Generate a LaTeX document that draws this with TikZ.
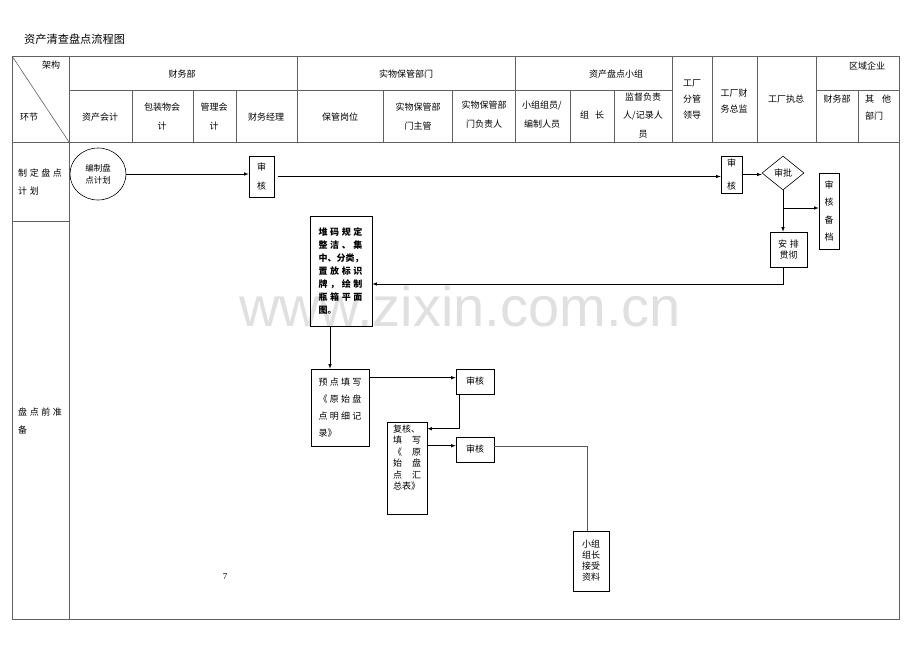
\documentclass[tikz,border=0pt]{standalone}
\usepackage{fontspec}
\setmainfont{Noto Sans CJK SC}
\setsansfont{Liberation Sans}
\newfontfamily\latinserif{Liberation Serif}
\usetikzlibrary{shapes,arrows}
\usetikzlibrary{positioning}

\begin{document}
\begin{tikzpicture}[
        x=1pt, y=-1pt,
        every node/.style={font=\fontsize{9}{19}\selectfont, inner sep=0pt},
        grid/.style={draw=gray!75!black, line width=0.6pt},
        flow/.style={draw, line width=0.6pt, -latex},
        ]
        \tikzstyle{card} = [draw, line width=0.6pt, fill=white, align=center]
        \tikzstyle{head} = [align=center]
        \tikzstyle{lane} = [align=left, anchor=west, font=\fontsize{9}{18}\selectfont]
        \newcommand{\cgap}{\hspace{2.6pt}}
        \newcommand{\jl}[2]{\makebox[#1][s]{#2}}
        \useasboundingbox (0,0) rectangle (920,651);

        % title
        \node[anchor=west, font=\fontsize{11.2}{12}\selectfont] (title) at (24,39) {资产清查盘点流程图};

        % table
        \draw[grid] (12,56) rectangle (899,619);
        \draw[grid] (12,56) -- (69,142);
        \draw[grid] (69,56) -- (69,619);
        \draw[grid] (12,142) -- (899,142);
        \draw[grid] (12,221) -- (69,221);
        \draw[grid] (69,90) -- (672,90);
        \draw[grid] (816,90) -- (899,90);
        \foreach \x in {297,515,672,712,757,816} \draw[grid] (\x,56) -- (\x,142);
        \foreach \x in {132,193,236,383,452,570,614,858} \draw[grid] (\x,90) -- (\x,142);

        % header
        \node[head] (arch) at (51,65) {架构};
        \node[head] (link) at (29,117) {环节};
        \node[head] (fin) at (182,74) {财务部};
        \node[head] (store) at (406,74) {实物保管部门};
        \node[head] (team) at (616,74) {资产盘点小组};
        \node[head] (region) at (867,66) {区域企业};
        \node[head] (acc) at (100,117) {资产会计};
        \node[head] (pack) at (162,116.5) {包装物会\\计};
        \node[head] (mgmt) at (214,116.5) {管理会\\计};
        \node[head] (cfo) at (266,117) {财务经理};
        \node[head] (keeper) at (340,117) {保管岗位};
        \node[head] (chief) at (418,116.5) {实物保管部\\门主管};
        \node[head] (resp) at (484,114.5) {实物保管部\\门负责人};
        \node[head] (member) at (542,114.5) {小组组员/\\编制人员};
        \node[head] (leader) at (592,115) {组\hspace{6pt}长};
        \node[head, font=\fontsize{9}{18.5}\selectfont] (super) at (643,115.5) {监督负责\\人/记录人\\员};
        \node[head, font=\fontsize{9}{16}\selectfont] (vp) at (692,99) {工厂\\分管\\领导};
        \node[head, font=\fontsize{9}{16}\selectfont] (fdir) at (734,101) {工厂财\\务总监};
        \node[head] (ceo) at (786,99) {工厂执总};
        \node[head] (rfin) at (837,99) {财务部};
        \node[head, align=left, anchor=west, font=\fontsize{9}{17}\selectfont] (rother) at (865,107.5) {其\hspace{8pt}他\\部门};

        % stages
        \node[lane] (lane1) at (18,182) {制\cgap{}定\cgap{}盘\cgap{}点\\计\cgap{}划};
        \node[lane] (lane2) at (18,421.5) {盘\cgap{}点\cgap{}前\cgap{}准\\备};

        % flow nodes
        \node[card, ellipse, minimum width=56, minimum height=52, font=\fontsize{8.5}{12}\selectfont] (plan) at (98,174) {编制盘\\点计划};
        \node[card, minimum width=25, minimum height=41] (chk1) at (261.5,176.5) {审\\核};
        \node[card, minimum width=21, minimum height=37, font=\fontsize{9}{23}\selectfont] (chk2) at (731.5,174.5) {审\\核};
        \node[card, diamond, minimum width=42, minimum height=34] (appr) at (783,173) {审批};
        \node[card, minimum width=20, minimum height=76, font=\fontsize{9}{17.5}\selectfont] (filed) at (829,211) {审\\核\\备\\档};
        \node[card, minimum width=37, minimum height=35, font=\fontsize{9}{11.5}\selectfont] (impl) at (788.5,249.5) {安\cgap{}排\\贯彻};
        \node[card, minimum width=62, minimum height=110, align=left, font=\bfseries\fontsize{9}{13}\selectfont] (stack) at (341,271)
            {\jl{44pt}{堆\hfill{}码\hfill{}规\hfill{}定}\\
             \jl{44pt}{整\hfill{}洁\hfill{}、\hfill{}集}\\
             中、分类，\\
             \jl{44pt}{置\hfill{}放\hfill{}标\hfill{}识}\\
             \jl{44pt}{牌\hfill{}，\hfill{}绘\hfill{}制}\\
             \jl{44pt}{瓶\hfill{}箱\hfill{}平\hfill{}面}\\
             图。};
        \node[card, minimum width=58, minimum height=77, align=left, font=\fontsize{9}{17}\selectfont] (pre) at (340,407.5)
            {\jl{43pt}{预\hfill{}点\hfill{}填\hfill{}写}\\
             \jl{43pt}{《\hfill{}原\hfill{}始\hfill{}盘}\\
             \jl{43pt}{点\hfill{}明\hfill{}细\hfill{}记}\\
             录》};
        \node[card, minimum width=38, minimum height=25] (chk3) at (475,381.5) {审核};
        \node[card, minimum width=40, minimum height=92, align=left, font=\fontsize{9}{11.5}\selectfont] (sum) at (407,468)
            {复核、\\
             \jl{28pt}{填\hfill{}写}\\
             \jl{28pt}{《\hfill{}原}\\
             \jl{28pt}{始\hfill{}盘}\\
             \jl{28pt}{点\hfill{}汇}\\
             总表》\\[10pt]\mbox{}};
        \node[card, minimum width=38, minimum height=25] (chk4) at (475,449.5) {审核};
        \node[card, minimum width=36, minimum height=60, font=\fontsize{9}{11}\selectfont] (lead) at (591,561) {小组\\组长\\接受\\资料};
        \node[font=\latinserif\fontsize{9}{11}\selectfont] (page) at (225,577) {7};

        % connectors
        \draw[flow] (plan.east) -- (plan.east -| chk1.west);
        \draw[flow, shorten <=4pt] (chk1.east) -- (chk1.east -| chk2.west);
        \draw[flow] (chk2.east) -- (chk2.east -| appr.west);
        \draw[flow] (appr.south) -- (appr.south |- impl.north);
        \coordinate (branch) at (appr.south |- 0,208);
        \draw[flow] (branch) -- (branch -| filed.west);
        \draw[flow] (appr.south |- impl.south) |- ([yshift=-13pt]stack.east);
        \draw[flow] ([xshift=-11pt]stack.south) -- ([xshift=-11pt]stack.south |- pre.north);
        \draw[flow] ([yshift=-9pt]pre.north east) -- ([yshift=-9pt]pre.north east -| chk3.west);
        \draw[flow] ([xshift=4pt]chk3.south west) |- ([yshift=-7pt]sum.north east);
        \draw[flow] ([yshift=-24pt]sum.north east) -- ([yshift=-24pt]sum.north east -| chk4.west);
        \draw[draw=gray!70!black, line width=0.6pt] ([yshift=3.5pt]chk4.east) -| ([xshift=-4pt]lead.north);

        % watermark on top
        \node[anchor=base, font=\sffamily\fontsize{56}{60}\selectfont, text=black, text opacity=0.12] (mark) at (460,326) {www.zixin.com.cn};
\end{tikzpicture}
\end{document}
